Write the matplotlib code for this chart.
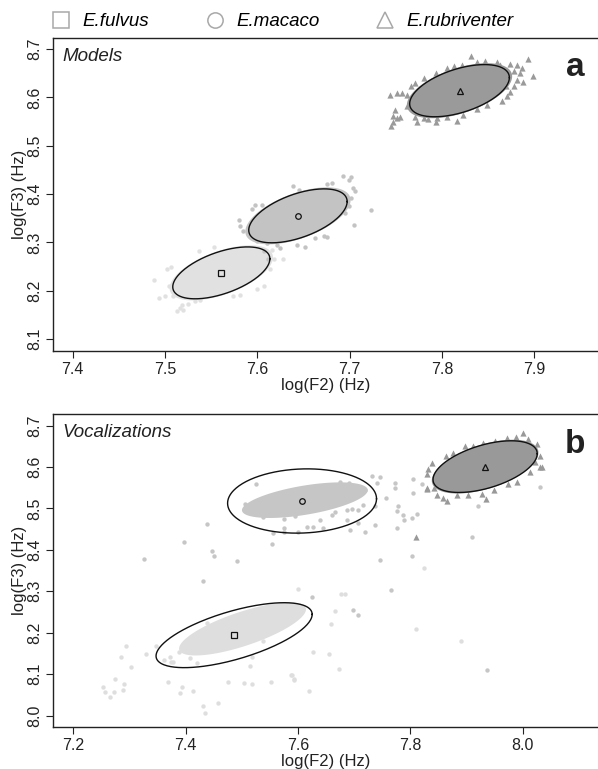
import numpy as np
import matplotlib
matplotlib.use("Agg")
import matplotlib.pyplot as plt
from matplotlib.lines import Line2D

plt.rcParams["font.family"] = ["Liberation Sans", "DejaVu Sans"]

species = ["E.fulvus", "E.macaco", "E.rubriventer"]
legend_markers = ["s", "o", "^"]

# --- panel a (models): ellipse = centre x, centre y, half x, half y, correlation
a_ell_cx = [7.561, 7.644, 7.819]
a_ell_cy = [8.237, 8.355, 8.614]
a_ell_hx = [0.0526, 0.0533, 0.054]
a_ell_hy = [0.0537, 0.0558, 0.054]
a_ell_rho = [0.54, 0.53, 0.50]
# dense cloud core, drawn as a filled region
a_core_cx = [7.561, 7.644, 7.819]
a_core_cy = [8.237, 8.355, 8.614]
a_core_hx = [0.056, 0.057, 0.057]
a_core_hy = [0.057, 0.059, 0.057]
a_core_rho = [0.56, 0.55, 0.52]

# points outside the dense core
a_fulvus_x = [7.488, 7.493, 7.500, 7.502, 7.506, 7.504, 7.516, 7.520, 7.525, 7.533,
              7.538, 7.509, 7.537, 7.553, 7.610, 7.616, 7.618, 7.614, 7.628, 7.607,
              7.600, 7.574, 7.581, 7.513, 7.518]
a_fulvus_y = [8.222, 8.186, 8.189, 8.244, 8.250, 8.210, 8.165, 8.161, 8.172, 8.179,
              8.181, 8.189, 8.282, 8.291, 8.299, 8.284, 8.265, 8.245, 8.265, 8.210,
              8.203, 8.189, 8.192, 8.158, 8.170]
a_macaco_x = [7.580, 7.581, 7.585, 7.592, 7.598, 7.605, 7.594, 7.600, 7.610, 7.621,
              7.607, 7.612, 7.625, 7.643, 7.652, 7.663, 7.672, 7.675, 7.639, 7.645,
              7.675, 7.681, 7.693, 7.702, 7.699, 7.704, 7.706, 7.701, 7.699, 7.723,
              7.705, 7.695]
a_macaco_y = [8.347, 8.335, 8.323, 8.316, 8.378, 8.378, 8.369, 8.302, 8.298, 8.294,
              8.282, 8.265, 8.289, 8.294, 8.290, 8.309, 8.313, 8.312, 8.416, 8.409,
              8.420, 8.422, 8.438, 8.436, 8.429, 8.413, 8.406, 8.392, 8.375, 8.367,
              8.336, 8.361]
a_rubri_x = [7.744, 7.751, 7.757, 7.762, 7.749, 7.747, 7.751, 7.755, 7.745, 7.747,
             7.762, 7.771, 7.773, 7.780, 7.785, 7.793, 7.795, 7.805, 7.816, 7.823,
             7.766, 7.771, 7.781, 7.793, 7.805, 7.813, 7.822, 7.831, 7.838, 7.847,
             7.860, 7.863, 7.874, 7.881, 7.887, 7.893, 7.878, 7.885, 7.881, 7.899,
             7.888, 7.874, 7.870, 7.865, 7.849, 7.838, 7.878, 7.869]
a_rubri_y = [8.606, 8.610, 8.610, 8.606, 8.575, 8.561, 8.557, 8.560, 8.540, 8.550,
             8.583, 8.560, 8.550, 8.557, 8.555, 8.550, 8.557, 8.560, 8.552, 8.564,
             8.623, 8.630, 8.640, 8.650, 8.661, 8.665, 8.668, 8.685, 8.674, 8.676,
             8.674, 8.668, 8.670, 8.668, 8.661, 8.679, 8.654, 8.650, 8.637, 8.645,
             8.633, 8.612, 8.602, 8.592, 8.585, 8.576, 8.624, 8.623]

# --- panel b (vocalizations)
b_ell_cx = [7.486, 7.607, 7.933]
b_ell_cy = [8.194, 8.518, 8.601]
b_ell_hx = [0.139, 0.1326, 0.0928]
b_ell_hy = [0.0784, 0.0776, 0.0624]
b_ell_rho = [0.64, 0.07, 0.50]
b_core_cx = [7.501, 7.612, 7.933]
b_core_cy = [8.209, 8.520, 8.601]
b_core_hx = [0.113, 0.112, 0.095]
b_core_hy = [0.064, 0.043, 0.065]
b_core_rho = [0.74, 0.56, 0.52]

b_fulvus_x = [7.293, 7.284, 7.303, 7.329, 7.347, 7.253, 7.256, 7.265, 7.274, 7.273,
              7.290, 7.289, 7.369, 7.393, 7.390, 7.413, 7.431, 7.434, 7.458, 7.476,
              7.504, 7.518, 7.515, 7.551, 7.587, 7.592, 7.373, 7.825, 7.810, 7.890,
              7.677, 7.684, 7.666, 7.659, 7.600, 7.627, 7.655, 7.672, 7.589, 7.593,
              7.620, 7.372, 7.361, 7.378, 7.387, 7.408, 7.420, 7.518, 7.538, 7.562,
              7.550, 7.420, 7.437]
b_fulvus_y = [8.169, 8.141, 8.117, 8.149, 8.167, 8.069, 8.058, 8.044, 8.088, 8.057,
              8.075, 8.062, 8.080, 8.069, 8.054, 8.060, 8.022, 8.007, 8.031, 8.082,
              8.078, 8.077, 8.120, 8.081, 8.098, 8.088, 8.130, 8.357, 8.209, 8.180,
              8.293, 8.293, 8.253, 8.221, 8.305, 8.153, 8.148, 8.113, 8.097, 8.086,
              8.060, 8.142, 8.134, 8.130, 8.154, 8.139, 8.127, 8.142, 8.179, 8.251,
              8.239, 8.199, 8.223]
b_macaco_x = [7.437, 7.397, 7.447, 7.450, 7.492, 7.325, 7.431, 7.525, 7.554, 7.731,
              7.746, 7.740, 7.773, 7.773, 7.756, 7.804, 7.804, 7.820, 7.777, 7.776,
              7.787, 7.789, 7.802, 7.812, 7.776, 7.737, 7.719, 7.746, 7.803, 7.766,
              7.909, 7.921, 8.031, 7.937, 7.697, 7.707, 7.624, 7.687, 7.696, 7.707,
              7.693, 7.687, 7.639, 7.666, 7.660, 7.645, 7.627, 7.615, 7.600, 7.574,
              7.574, 7.595, 7.707, 7.716, 7.737, 7.675, 7.690, 7.705, 7.719, 7.506,
              7.538, 7.555, 7.574, 7.529]
b_macaco_y = [8.463, 8.418, 8.398, 8.384, 8.372, 8.378, 8.325, 8.559, 8.414, 8.579,
              8.577, 8.561, 8.561, 8.549, 8.525, 8.571, 8.537, 8.559, 8.506, 8.495,
              8.484, 8.471, 8.476, 8.486, 8.452, 8.460, 8.442, 8.376, 8.386, 8.303,
              8.432, 8.505, 8.553, 8.110, 8.254, 8.243, 8.287, 8.497, 8.499, 8.464,
              8.448, 8.472, 8.472, 8.492, 8.484, 8.452, 8.456, 8.456, 8.444, 8.444,
              8.474, 8.482, 8.497, 8.509, 8.506, 8.565, 8.562, 8.554, 8.545, 8.511,
              8.479, 8.440, 8.452, 8.501]
b_rubri_x = [7.810, 7.829, 8.030, 7.838, 7.832, 7.829, 7.863, 7.876, 7.897, 7.912,
             7.930, 7.951, 7.972, 7.988, 8.000, 8.010, 8.026, 8.030, 8.034, 8.022,
             8.013, 7.989, 7.974, 7.948, 7.927, 7.935, 7.903, 7.883, 7.865, 7.858,
             7.847, 7.842, 7.830]
b_rubri_y = [8.432, 8.550, 8.600, 8.609, 8.595, 8.583, 8.627, 8.633, 8.651, 8.651,
             8.659, 8.664, 8.670, 8.672, 8.683, 8.667, 8.656, 8.627, 8.600, 8.613,
             8.587, 8.565, 8.559, 8.545, 8.534, 8.522, 8.533, 8.533, 8.519, 8.525,
             8.533, 8.549, 8.546]

a_colors = ["#e1e1e1", "#c3c3c3", "#9a9a9a"]
b_colors = ["#dedede", "#c6c6c6", "#999999"]


def ellipse_xy(cx, cy, hx, hy, rho, n=240):
    t = np.linspace(0, 2 * np.pi, n)
    x = cx + hx * np.cos(t)
    y = cy + hy * (rho * np.cos(t) + np.sqrt(1 - rho ** 2) * np.sin(t))
    return x, y


def draw_panel(ax, core, ell, pts, colors):
    for i in range(3):
        x, y = ellipse_xy(core[0][i], core[1][i], core[2][i], core[3][i], core[4][i])
        ax.fill(x, y, color=colors[i], lw=0, zorder=1)
    for i, (px, py) in enumerate(pts):
        if i == 2:
            ax.scatter(px, py, marker="^", s=20, color=colors[i], lw=0, zorder=2)
        else:
            ax.scatter(px, py, marker="o", s=10, color=colors[i], lw=0, zorder=2)
    for i in range(3):
        x, y = ellipse_xy(ell[0][i], ell[1][i], ell[2][i], ell[3][i], ell[4][i])
        ax.plot(x, y, color="#111111", lw=1.0, zorder=3)
        ax.plot(ell[0][i], ell[1][i], marker=legend_markers[i], ms=4, mfc="none",
                mec="#111111", mew=0.9, ls="none", zorder=4)


def style_axes(ax, xlim, ylim, xticks, yticks):
    ax.set_xlim(*xlim)
    ax.set_ylim(*ylim)
    ax.set_xticks(xticks)
    ax.set_yticks(yticks)
    ax.set_xticklabels([f"{v:.1f}" for v in xticks])
    ax.set_yticklabels([f"{v:.1f}" for v in yticks], rotation=90, va="center")
    ax.spines["right"].set_visible(False)
    for s in ["left", "bottom", "top"]:
        ax.spines[s].set_linewidth(1.0)
        ax.spines[s].set_color("#222222")
    ax.tick_params(direction="out", length=5, width=0.8, labelsize=11.5,
                   colors="#222222", pad=3)
    ax.set_xlabel("log(F2) (Hz)", fontsize=12, color="#222222", labelpad=1)
    ax.set_ylabel("log(F3) (Hz)", fontsize=12, color="#222222", labelpad=0)


fig = plt.figure(figsize=(5.98, 7.69), dpi=100)
ax_a = fig.add_axes([0.0891, 0.544, 0.9109, 0.4072])
ax_b = fig.add_axes([0.0891, 0.055, 0.9109, 0.4066])

draw_panel(ax_a,
           (a_core_cx, a_core_cy, a_core_hx, a_core_hy, a_core_rho),
           (a_ell_cx, a_ell_cy, a_ell_hx, a_ell_hy, a_ell_rho),
           [(a_fulvus_x, a_fulvus_y), (a_macaco_x, a_macaco_y), (a_rubri_x, a_rubri_y)],
           a_colors)
draw_panel(ax_b,
           (b_core_cx, b_core_cy, b_core_hx, b_core_hy, b_core_rho),
           (b_ell_cx, b_ell_cy, b_ell_hx, b_ell_hy, b_ell_rho),
           [(b_fulvus_x, b_fulvus_y), (b_macaco_x, b_macaco_y), (b_rubri_x, b_rubri_y)],
           b_colors)

style_axes(ax_a, (7.379, 7.969), (8.076, 8.724),
           [7.4, 7.5, 7.6, 7.7, 7.8, 7.9], [8.1, 8.2, 8.3, 8.4, 8.5, 8.6, 8.7])
style_axes(ax_b, (7.164, 8.134), (7.973, 8.728),
           [7.2, 7.4, 7.6, 7.8, 8.0], [8.0, 8.1, 8.2, 8.3, 8.4, 8.5, 8.6, 8.7])

ax_a.text(0.017, 0.938, "Models", transform=ax_a.transAxes, fontsize=13.5,
          style="italic", color="#222222", va="center")
ax_b.text(0.017, 0.942, "Vocalizations", transform=ax_b.transAxes, fontsize=13.5,
          style="italic", color="#222222", va="center")
ax_a.text(0.958, 0.904, "a", transform=ax_a.transAxes, fontsize=24,
          fontweight="bold", color="#222222", ha="center", va="center")
ax_b.text(0.958, 0.904, "b", transform=ax_b.transAxes, fontsize=24,
          fontweight="bold", color="#222222", ha="center", va="center")

handles = [Line2D([], [], marker=m, ls="none", ms=11, mfc="none", mec="#a8a8a8", mew=1.1)
           for m in legend_markers]
fig.legend(handles, species, loc="center left", bbox_to_anchor=(0.055, 0.972),
           ncol=3, frameon=False, prop={"style": "italic", "size": 13.5},
           handletextpad=0.55, columnspacing=2.9, handlelength=1.2)

fig.savefig("out.png", dpi=100)
